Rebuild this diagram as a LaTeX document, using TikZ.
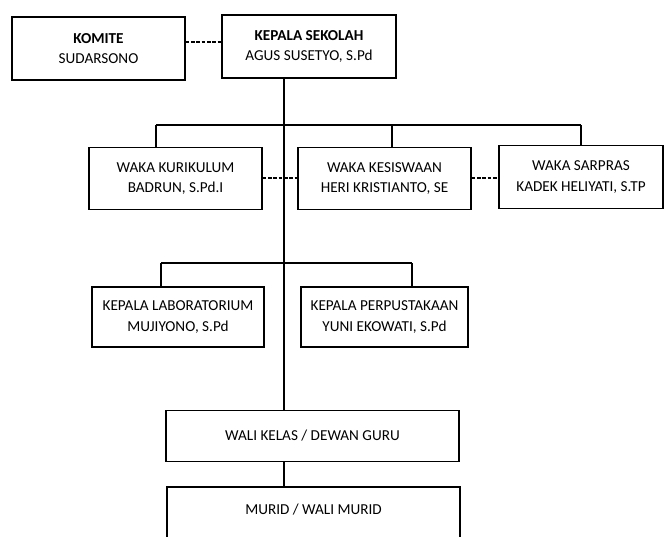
\documentclass[tikz,border=0pt]{standalone}
\usepackage{fontspec}
\setmainfont{Carlito}
\begin{document}
\begin{tikzpicture}[x=0.75pt,y=-0.75pt,
  orgfont/.style={font=\fontsize{11.4}{15.3}\selectfont},
  orgbox/.style={draw=black,line width=1.1pt,fill=white,align=center,inner sep=0pt,orgfont},
  conn/.style={line width=1.1pt,draw=black},
  dconn/.style={line width=1.1pt,draw=black,dash pattern=on 2.6pt off 1.4pt}]
\useasboundingbox (0,0) rectangle (664,536);
\node[orgbox,minimum width=173*0.75pt,minimum height=63*0.75pt] (komite) at (98.5,48.5) {\textbf{KOMITE}\\SUDARSONO};
\node[orgbox,minimum width=174*0.75pt,minimum height=63*0.75pt] (kepala) at (309,46.5) {\textbf{KEPALA SEKOLAH}\\AGUS SUSETYO, S.Pd};
\node[orgbox,minimum width=173*0.75pt,minimum height=62*0.75pt] (kurikulum) at (175.5,178.5) {WAKA KURIKULUM\\BADRUN, S.Pd.I};
\node[orgbox,minimum width=173*0.75pt,minimum height=62*0.75pt] (kesiswaan) at (384.5,178.5) {WAKA KESISWAAN\\HERI KRISTIANTO, SE};
\node[orgbox,minimum width=164*0.75pt,minimum height=63*0.75pt] (sarpras) at (581,177) {WAKA SARPRAS\\KADEK HELIYATI, S.TP};
\node[orgbox,minimum width=172*0.75pt,minimum height=60*0.75pt] (lab) at (178,317) {KEPALA LABORATORIUM\\MUJIYONO, S.Pd};
\node[orgbox,minimum width=167*0.75pt,minimum height=60*0.75pt] (perpus) at (384.5,317) {KEPALA PERPUSTAKAAN\\YUNI EKOWATI, S.Pd};
\node[orgbox,minimum width=293*0.75pt,minimum height=51*0.75pt] (wali) at (312.5,436) {WALI KELAS / DEWAN GURU};
\node[orgbox,minimum width=293*0.75pt,minimum height=60*0.75pt,
  label={[orgfont,yshift=5.5pt]center:MURID / WALI MURID}] (murid) at (313.5,517) {};
% coordinates
\coordinate (dk) at (0,42);
\coordinate (dw) at (0,178);
\coordinate (tr) at (284,0);
\coordinate (b1l) at (156,125);
\coordinate (b1m) at (392,125);
\coordinate (b1r) at (581,125);
\coordinate (b2l) at (161,263);
\coordinate (b2r) at (412,263);
% dashed links
\draw[dconn] (komite.east |- dk) -- (kepala.west |- dk);
\draw[dconn] (kurikulum.east |- dw) -- (kesiswaan.west |- dw);
\draw[dconn] (kesiswaan.east |- dw) -- (sarpras.west |- dw);
% trunk
\draw[conn] (kepala.south -| tr) -- (wali.north -| tr);
\draw[conn] (wali.south -| tr) -- (murid.north -| tr);
% bar 1
\draw[conn] (b1l) -- (b1r);
\draw[conn] (b1l) -- (kurikulum.north -| b1l);
\draw[conn] (b1m) -- (kesiswaan.north -| b1m);
\draw[conn] (b1r) -- (sarpras.north -| b1r);
% bar 2
\draw[conn] (b2l) -- (b2r);
\draw[conn] (b2l) -- (lab.north -| b2l);
\draw[conn] (b2r) -- (perpus.north -| b2r);
\end{tikzpicture}
\end{document}
